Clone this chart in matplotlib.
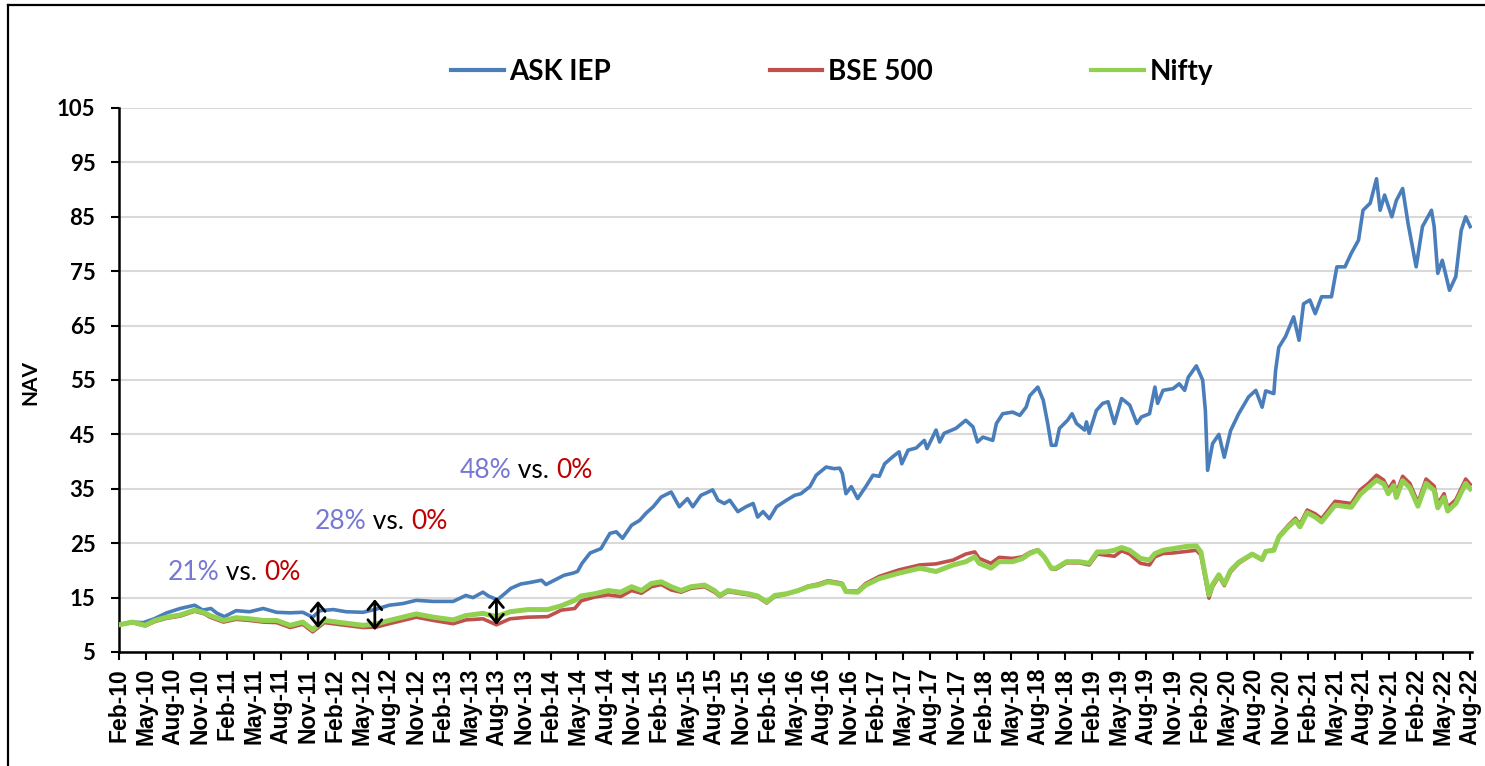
import matplotlib
matplotlib.use("Agg")
import matplotlib.pyplot as plt
from matplotlib.lines import Line2D

# ---- data (x = months since Feb-2010) ----
ask_t = [0, 1.3, 2.7, 3.9, 5.3, 6.8, 8.4, 9.3, 10.2, 10.9, 11.7, 13.0, 14.5, 16.0, 17.5, 19.0,
         20.4, 21.5, 22.3, 23.8, 25.2, 27.1, 28.6, 30.0, 31.5, 33.0, 34.9, 37.1, 38.5, 39.3,
         40.4, 41.0, 42.0, 42.8, 43.5, 44.6, 45.7, 46.9, 47.4, 48.7, 49.4, 50.4, 50.9, 51.4,
         52.3, 53.5, 54.5, 55.2, 55.9, 56.9, 57.8, 58.5, 59.3, 60.2, 61.3, 62.2, 63.1, 63.7,
         64.6, 65.4, 65.9, 66.5, 67.2, 67.8, 68.7, 69.6, 70.4, 70.9, 71.5, 72.2, 73.0, 74.1,
         75.0, 75.7, 76.7, 77.4, 78.5, 79.4, 80.0, 80.3, 80.7, 81.3, 82.0, 82.9, 83.7, 84.4,
         85.0, 85.9, 86.6, 86.9, 87.6, 88.5, 89.4, 89.7, 90.7, 91.1, 91.6, 92.9, 94.0, 94.8,
         95.3, 95.9, 97.0, 97.4, 98.1, 99.2, 100.0, 100.7, 101.1, 102.0, 102.6, 103.1, 103.5,
         104.0, 104.4, 105.3, 105.8, 106.3, 107.2, 107.4, 107.7, 108.5, 109.2, 109.8, 110.5,
         111.3, 112.2, 113.0, 113.5, 114.4, 115.0, 115.3, 115.9, 117.0, 117.7, 118.3, 118.7,
         119.6, 120.3, 120.6, 120.85, 121.4, 122.1, 122.7, 123.4, 124.3, 125.4, 126.2, 126.9,
         127.3, 128.2, 128.4, 128.75, 129.5, 130.4, 131.0, 131.5, 132.2, 132.8, 133.5, 134.6,
         135.2, 136.1, 136.8, 137.6, 138.1, 138.9, 139.6, 140.0, 140.5, 141.3, 141.8, 142.5,
         143.1, 144.0, 144.7, 145.7, 146.0, 146.4, 146.9, 147.7, 148.4, 149.0, 149.5, 150.0]
ask_v = [10.0, 10.5, 10.4, 11.1, 12.2, 13.0, 13.6, 12.7, 13.0, 12.1, 11.5, 12.6, 12.4, 13.0, 12.3, 12.2,
         12.3, 11.4, 12.6, 12.8, 12.4, 12.3, 12.9, 13.6, 13.9, 14.5, 14.3, 14.3, 15.4, 15.0,
         16.0, 15.3, 14.6, 15.7, 16.7, 17.5, 17.8, 18.2, 17.4, 18.5, 19.1, 19.5, 19.8, 21.3,
         23.2, 24.0, 26.8, 27.1, 25.9, 28.3, 29.2, 30.5, 31.7, 33.5, 34.4, 31.7, 33.2, 31.7,
         33.8, 34.4, 34.8, 32.9, 32.3, 32.9, 30.8, 31.7, 32.3, 29.8, 30.8, 29.5, 31.7, 32.9,
         33.8, 34.1, 35.4, 37.5, 39.0, 38.7, 38.8, 37.8, 34.1, 35.4, 33.2, 35.4, 37.5, 37.3,
         39.6, 40.9, 41.8, 39.6, 42.1, 42.5, 43.9, 42.4, 45.8, 43.6, 45.2, 46.1, 47.6, 46.4,
         43.6, 44.5, 43.9, 47.0, 48.8, 49.1, 48.5, 50.0, 52.1, 53.7, 51.3, 47.0, 43.0,
         43.0, 46.1, 47.6, 48.8, 47.0, 45.8, 47.3, 45.2, 49.4, 50.7, 51.0, 47.0,
         51.6, 50.4, 47.0, 48.2, 48.8, 53.7, 50.7, 53.1, 53.4, 54.3, 53.1, 55.5,
         57.6, 55.0, 49.4, 38.4, 43.3, 45.0, 40.8, 45.7, 48.8, 51.9, 53.1, 50.0,
         53.0, 52.5, 56.8, 61.0, 63.0, 66.6, 62.3, 69.0, 69.7, 67.2, 70.3, 70.3,
         75.8, 75.8, 78.3, 80.7, 86.2, 87.5, 92.0, 86.2, 89.0, 85.0, 88.0, 90.2,
         83.8, 75.8, 83.2, 86.2, 83.2, 74.6, 77.0, 71.5, 74.0, 82.5, 85.0, 83.2]

idx_t = [0, 1.5, 2.9, 4.0, 5.3, 6.8, 8.4, 9.5, 10.1, 11.6, 13.0, 14.5, 16.0, 17.5, 19.0, 20.4,
         21.5, 22.8, 24.2, 25.7, 27.1, 28.6, 30.0, 31.5, 33.0, 34.9, 37.1, 38.5, 40.4, 41.9,
         43.4, 45.4, 47.6, 49.1, 50.6, 51.3, 52.8, 54.3, 55.7, 56.9, 58.0, 59.1, 60.2, 61.3,
         62.4, 63.5, 65.0, 66.1, 66.7, 67.6, 68.7, 69.9, 70.9, 71.9, 72.8, 74.1, 75.4, 76.5,
         77.6, 78.7, 79.8, 80.3, 80.7, 82.0, 82.9, 84.4, 86.6, 88.9, 90.7, 92.6, 94.0, 95.0,
         95.5, 96.8, 97.7, 99.2, 100.3, 101.1, 102.0, 102.7, 103.5, 104.0, 105.2, 106.6, 107.7,
         108.6, 109.6, 110.5, 111.3, 112.2, 113.4, 114.4, 115.0, 115.9, 117.0, 118.5, 119.6,
         120.1, 120.7, 121.0, 121.4, 122.1, 122.7, 123.4, 124.3, 125.8, 126.9, 127.3, 128.2,
         128.75, 129.8, 130.6, 131.1, 131.9, 132.8, 133.5, 135.0, 136.8, 137.8, 138.7, 139.6,
         140.4, 140.9, 141.5, 141.8, 142.5, 143.3, 144.2, 145.1, 146.0, 146.4, 147.1, 147.5,
         148.4, 149.5, 150.0]
nifty_v = [10.0, 10.5, 9.9, 10.8, 11.4, 11.8, 12.7, 12.2, 11.7, 10.8, 11.3, 11.1, 10.8, 10.8, 9.9, 10.5,
           9.1, 10.8, 10.5, 10.2, 9.9, 10.2, 10.8, 11.4, 12.0, 11.4, 10.9, 11.7, 12.1, 11.5,
           12.4, 12.8, 12.8, 13.5, 14.5, 15.3, 15.7, 16.3, 16.0, 17.0, 16.3, 17.6, 17.9, 17.0,
           16.3, 17.0, 17.3, 16.3, 15.4, 16.3, 16.0, 15.7, 15.3, 14.2, 15.4, 15.7, 16.3, 17.0,
           17.3, 17.9, 17.6, 17.4, 16.1, 16.0, 17.3, 18.5, 19.5, 20.4, 19.8, 21.0, 21.6, 22.5,
           21.3, 20.4, 21.6, 21.6, 22.2, 23.1, 23.7, 22.5, 20.4, 20.4, 21.6, 21.6, 21.3,
           23.4, 23.4, 23.7, 24.2, 23.7, 22.2, 21.9, 23.1, 23.7, 24.0, 24.4, 24.5,
           23.4, 18.2, 15.5, 17.4, 19.2, 17.5, 20.0, 21.5, 23.0, 22.0, 23.5, 23.7,
           26.1, 28.0, 29.2, 28.0, 30.6, 29.8, 28.9, 32.0, 31.6, 34.0, 35.3, 36.6,
           35.9, 34.1, 35.6, 33.4, 36.5, 35.2, 31.8, 36.0, 34.7, 31.5, 33.4, 30.9,
           32.3, 36.0, 35.0]
bse_v = [10.0, 10.4, 9.8, 10.6, 11.2, 11.6, 12.5, 12.0, 11.4, 10.5, 11.0, 10.8, 10.5, 10.4, 9.5, 10.1,
         8.7, 10.4, 10.1, 9.8, 9.5, 9.6, 10.2, 10.8, 11.4, 10.8, 10.2, 10.9, 11.1, 10.0,
         11.1, 11.4, 11.5, 12.7, 13.0, 14.4, 15.1, 15.5, 15.2, 16.3, 15.8, 17.0, 17.4, 16.4,
         16.0, 16.7, 17.0, 16.0, 15.2, 16.1, 15.8, 15.5, 15.1, 14.0, 15.2, 15.6, 16.3, 17.1,
         17.5, 18.1, 17.8, 17.6, 16.2, 16.2, 17.6, 18.9, 20.1, 21.0, 21.2, 21.9, 23.0, 23.4,
         22.2, 21.3, 22.4, 22.2, 22.5, 23.3, 23.8, 22.6, 20.3, 20.2, 21.4, 21.4, 21.0,
         23.0, 22.8, 22.6, 23.6, 23.0, 21.3, 21.0, 22.5, 23.1, 23.2, 23.5, 23.7,
         22.8, 17.6, 14.9, 17.0, 18.9, 17.2, 19.7, 21.3, 22.9, 21.9, 23.5, 23.8,
         26.3, 28.3, 29.6, 28.5, 31.1, 30.4, 29.5, 32.7, 32.3, 34.8, 36.0, 37.5,
         36.6, 34.9, 36.4, 34.2, 37.3, 36.0, 32.5, 36.8, 35.5, 32.2, 34.1, 31.6,
         33.0, 36.8, 35.8]

series_names = ["ASK IEP", "BSE 500", "Nifty"]

tick_pos = list(range(0, 151, 3))
tick_labels = ["Feb-10", "May-10", "Aug-10", "Nov-10", "Feb-11", "May-11", "Aug-11", "Nov-11",
               "Feb-12", "May-12", "Aug-12", "Nov-12", "Feb-13", "May-13", "Aug-13", "Nov-13",
               "Feb-14", "May-14", "Aug-14", "Nov-14", "Feb-15", "May-15", "Aug-15", "Nov-15",
               "Feb-16", "May-16", "Aug-16", "Nov-16", "Feb-17", "May-17", "Aug-17", "Nov-17",
               "Feb-18", "May-18", "Aug-18", "Nov-18", "Feb-19", "May-19", "Aug-19", "Nov-19",
               "Feb-20", "May-20", "Aug-20", "Nov-20", "Feb-21", "May-21", "Aug-21", "Nov-21",
               "Feb-22", "May-22", "Aug-22"]
y_ticks = list(range(5, 106, 10))

# annotations: (x, y, first, last) and arrows (x, y_top, y_bottom)
notes = [(5.4, 19.7, "21%", "0%"), (21.7, 28.9, "28%", "0%"), (37.8, 38.3, "48%", "0%")]
arrows = [(22.1, 14.4, 9.4), (28.4, 14.7, 9.0), (41.9, 15.1, 10.0)]

# ---- figure ----
W, H = 1485, 766
fig = plt.figure(figsize=(W / 100, H / 100), dpi=100)
ax = fig.add_axes([119 / W, 1 - 652 / H, (1472 - 119) / W, (652 - 108) / H])

c_ask, c_bse, c_nifty = "#4A7EBB", "#C0504D", "#92D050"
ax.plot(ask_t, ask_v, color=c_ask, lw=2.6, label=series_names[0], zorder=3, solid_joinstyle="round")
ax.plot(idx_t, bse_v, color=c_bse, lw=2.6, label=series_names[1], zorder=4, solid_joinstyle="round")
ax.plot(idx_t, nifty_v, color=c_nifty, lw=3.6, label=series_names[2], zorder=5, solid_joinstyle="round")

ax.set_xlim(0, 150.2)
ax.set_ylim(5, 105)
ax.set_yticks(y_ticks)
ax.set_xticks(tick_pos)
ax.set_xticklabels(tick_labels, rotation=90, fontsize=16.5, fontweight="bold",
                   family="Liberation Sans", va="top")
for lab in ax.get_yticklabels():
    lab.set_fontfamily("Lato")
    lab.set_fontweight("bold")
    lab.set_fontsize(16)
ax.tick_params(axis="y", direction="out", length=6, width=1.5, pad=11)
ax.tick_params(axis="x", direction="out", length=5.5, width=1.5, pad=6)
ax.grid(axis="y", color="#D9D9D9", lw=1.5, zorder=0)
ax.set_axisbelow(True)
for s in ("top", "right"):
    ax.spines[s].set_visible(False)
for s in ("left", "bottom"):
    ax.spines[s].set_linewidth(1.8)
    ax.spines[s].set_color("black")

ax.set_ylabel("NAV", fontsize=15, fontweight="bold", family="Lato")
ax.yaxis.set_label_coords(-0.058, 0.496)

# annotations
for x, y, a, b in notes:
    t1 = ax.text(x, y, a, color="#7777D4", fontsize=19, family="Lato", va="center", ha="left", zorder=6)
    t2 = ax.annotate(" vs. ", xy=(1, 0), xycoords=t1, va="bottom", ha="left",
                     color="black", fontsize=19, family="Lato", zorder=6)
    ax.annotate(b, xy=(1, 0), xycoords=t2, va="bottom", ha="left",
                color="#C00000", fontsize=19, family="Lato", zorder=6)
for x, y1, y2 in arrows:
    ax.annotate("", xy=(x, y1), xytext=(x, y2),
                arrowprops=dict(arrowstyle="<->,head_length=0.6,head_width=0.5",
                                lw=2.0, color="black", shrinkA=0, shrinkB=0), zorder=7)

# legend
leg = fig.legend(loc="center left", bbox_to_anchor=(440 / W, 1 - 72 / H), ncol=3, frameon=False,
                 prop={"family": "Lato", "weight": "bold", "size": 20},
                 handlelength=1.9, handletextpad=0.2, columnspacing=5.7, borderaxespad=0)
for h in leg.get_lines():
    h.set_linewidth(3)

# outer frame
fig.add_artist(Line2D([7.5 / W, 7.5 / W], [0, 1 - 4.5 / H], color="black", lw=1.6, transform=fig.transFigure))
fig.add_artist(Line2D([7.5 / W, 1], [1 - 4.5 / H, 1 - 4.5 / H], color="black", lw=1.6, transform=fig.transFigure))

fig.savefig("out.png", dpi=100)
